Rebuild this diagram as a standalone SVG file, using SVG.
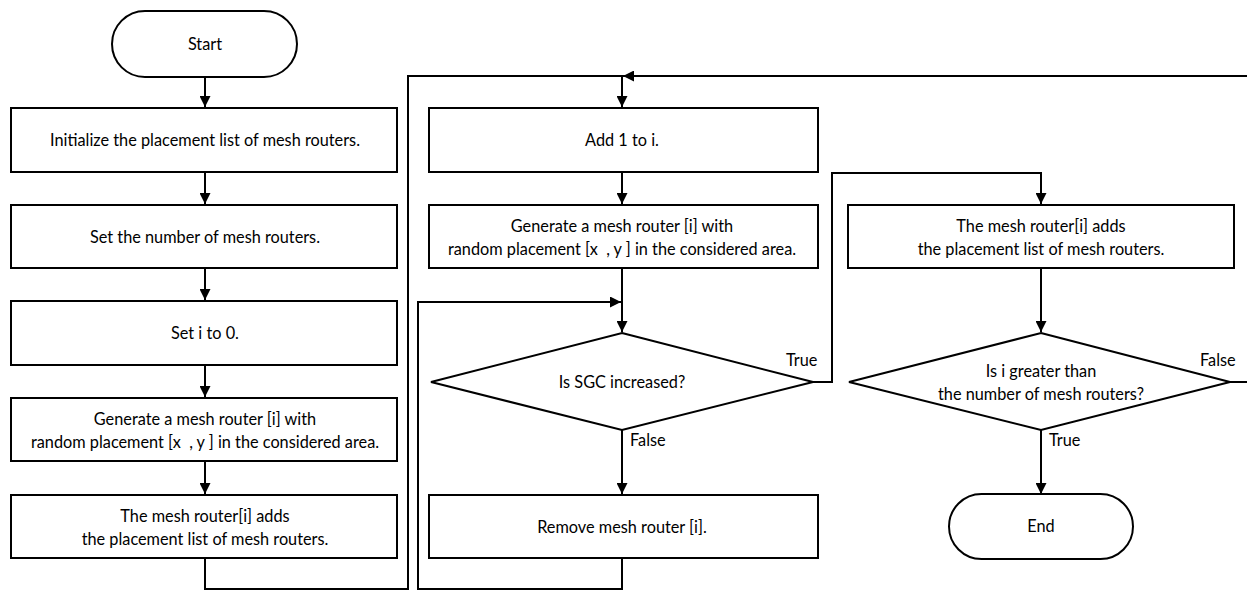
<svg xmlns="http://www.w3.org/2000/svg" width="1247" height="590" viewBox="0 0 1247 590">
<style>
.b{fill:#fff;stroke:#000;stroke-width:2}
.c{fill:none;stroke:#000;stroke-width:2}
text{font-family:Lato,"Open Sans","Liberation Sans",sans-serif;font-size:16.3px;fill:#000;white-space:pre}
.m{text-anchor:middle}
</style>
<defs>
<marker id="a" viewBox="0 0 10 10" refX="10" refY="5" markerWidth="5.5" markerHeight="5.5" orient="auto"><path d="M0,0L10,5L0,10z" fill="#000"/></marker>
</defs>
<rect width="1247" height="590" fill="#fff"/>
<g id="connectors">
<path class="c" d="M205,77V107" marker-end="url(#a)"/>
<path class="c" d="M205,172V204" marker-end="url(#a)"/>
<path class="c" d="M205,268V300" marker-end="url(#a)"/>
<path class="c" d="M205,365V397" marker-end="url(#a)"/>
<path class="c" d="M205,461V494" marker-end="url(#a)"/>
<path class="c" d="M205,558V589H408V76H622V107" marker-end="url(#a)"/>
<path class="c" d="M1247,76H623" marker-end="url(#a)"/>
<path class="c" d="M622,172V204" marker-end="url(#a)"/>
<path class="c" d="M622,268V332" marker-end="url(#a)"/>
<path class="c" d="M622,558V589H418V302H621" marker-end="url(#a)"/>
<path class="c" d="M622,430V494" marker-end="url(#a)"/>
<path class="c" d="M813,382H832V173H1041V204" marker-end="url(#a)"/>
<path class="c" d="M1041,268V332" marker-end="url(#a)"/>
<path class="c" d="M1041,430V494" marker-end="url(#a)"/>
<path class="c" d="M1230,382H1247"/>
<text x="786" y="366">True</text>
<text x="630" y="446">False</text>
<text x="1200" y="366">False</text>
<text x="1049" y="446">True</text>
</g>
<g id="start"><rect class="b" x="112" y="11" width="185" height="66" rx="33"/><text class="m" x="205" y="50">Start</text></g>
<g id="init"><rect class="b" x="11" y="108" width="386" height="64"/><text class="m" x="205" y="146">Initialize the placement list of mesh routers.</text></g>
<g id="setnum"><rect class="b" x="11" y="205" width="386" height="63"/><text class="m" x="205" y="243">Set the number of mesh routers.</text></g>
<g id="seti"><rect class="b" x="11" y="301" width="386" height="64"/><text class="m" x="205" y="339">Set i to 0.</text></g>
<g id="gen1"><rect class="b" x="11" y="398" width="386" height="63"/><text class="m" x="205" y="425">Generate a mesh router [i] with</text><text class="m" x="205" y="448">random placement [x  , y ] in the considered area.</text></g>
<g id="add1"><rect class="b" x="11" y="495" width="386" height="63"/><text class="m" x="205" y="522">The mesh router[i] adds</text><text class="m" x="205" y="545">the placement list of mesh routers.</text></g>
<g id="inc"><rect class="b" x="429" y="108" width="389" height="64"/><text class="m" x="622" y="146">Add 1 to i.</text></g>
<g id="gen2"><rect class="b" x="429" y="205" width="389" height="63"/><text class="m" x="622" y="232">Generate a mesh router [i] with</text><text class="m" x="622" y="255">random placement [x  , y ] in the considered area.</text></g>
<g id="sgc"><polygon class="b" points="622,333 813,382 622,430 431,382"/><text class="m" x="622" y="388">Is SGC increased?</text></g>
<g id="remove"><rect class="b" x="429" y="495" width="389" height="63"/><text class="m" x="622" y="533">Remove mesh router [i].</text></g>
<g id="add2"><rect class="b" x="848" y="205" width="386" height="63"/><text class="m" x="1041" y="232">The mesh router[i] adds</text><text class="m" x="1041" y="255">the placement list of mesh routers.</text></g>
<g id="cmp"><polygon class="b" points="1041,333 1230,382 1041,430 849,382"/><text class="m" x="1041" y="377">Is i greater than</text><text class="m" x="1041" y="400">the number of mesh routers?</text></g>
<g id="end"><rect class="b" x="949" y="494" width="184" height="65" rx="32.5"/><text class="m" x="1041" y="532">End</text></g>
</svg>
